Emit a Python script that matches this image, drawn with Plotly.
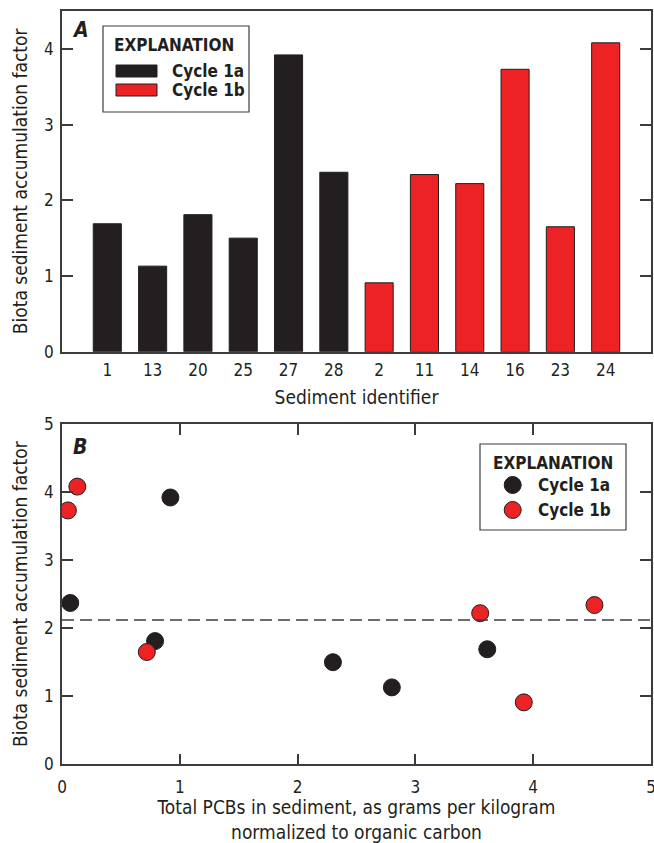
import plotly.graph_objects as go

# Biota-sediment accumulation factors by sediment, cycles 1a and 1b
sediment_1a = ["1", "13", "20", "25", "27", "28"]
bsaf_1a = [1.69, 1.13, 1.81, 1.50, 3.92, 2.37]
pcb_1a = [3.61, 2.80, 0.79, 2.30, 0.92, 0.07]

sediment_1b = ["2", "11", "14", "16", "23", "24"]
bsaf_1b = [0.91, 2.34, 2.22, 3.73, 1.65, 4.08]
pcb_1b = [3.92, 4.52, 3.55, 0.05, 0.72, 0.13]

reference_bsaf = 2.12

BLACK = "#231f20"
RED = "#ed2224"
AXIS = "#3c3c3c"
FONT = "Liberation Sans Narrow, DejaVu Sans Condensed, Arial Narrow, sans-serif"

W, H = 654, 843


def px_x(v):
    return v / W


def px_y(v):
    return 1 - v / H


fig = go.Figure()

# Panel A: bar chart
fig.add_trace(go.Bar(x=sediment_1a, y=bsaf_1a, name="Cycle 1a", width=0.62,
                     marker=dict(color=BLACK, line=dict(color=BLACK, width=1)),
                     xaxis="x", yaxis="y", showlegend=False))
fig.add_trace(go.Bar(x=sediment_1b, y=bsaf_1b, name="Cycle 1b", width=0.62,
                     marker=dict(color=RED, line=dict(color=BLACK, width=1)),
                     xaxis="x", yaxis="y", showlegend=False))

# Panel B: scatter against sediment PCBs
fig.add_trace(go.Scatter(x=pcb_1a, y=bsaf_1a, mode="markers", name="Cycle 1a",
                         marker=dict(color=BLACK, size=17, line=dict(color=BLACK, width=1)),
                         xaxis="x2", yaxis="y2", showlegend=False))
fig.add_trace(go.Scatter(x=pcb_1b, y=bsaf_1b, mode="markers", name="Cycle 1b",
                         marker=dict(color=RED, size=17, line=dict(color=BLACK, width=1)),
                         xaxis="x2", yaxis="y2", showlegend=False))

axis_common = dict(showline=True, linecolor=AXIS, linewidth=1.5, mirror="ticks",
                   showgrid=False, zeroline=False, automargin=False,
                   tickfont=dict(family=FONT, size=17, color=BLACK),
                   tickcolor=AXIS, tickwidth=1.5, ticklabeloverflow="allow")

title_font = dict(family=FONT, size=19, color=BLACK)
x_dom = [px_x(62), px_x(651)]

fig.update_layout(
    width=W, height=H,
    margin=dict(l=0, r=0, t=0, b=0),
    paper_bgcolor="white", plot_bgcolor="white",
    barmode="overlay",
    font=dict(family=FONT, color=BLACK),
    xaxis=dict(**axis_common, domain=x_dom, anchor="y", type="category",
               categoryorder="array", categoryarray=sediment_1a + sediment_1b,
               range=[-1, 12], ticks="", ticklabelstandoff=2,
               title=dict(text="Sediment identifier", font=title_font, standoff=12)),
    yaxis=dict(**axis_common, domain=[px_y(351.7), px_y(11)], anchor="x",
               range=[0, 4.5], dtick=1, ticks="inside", ticklen=11, ticklabelstandoff=3,
               title=dict(text="Biota sediment accumulation factor", font=title_font,
                          standoff=11)),
    xaxis2=dict(**axis_common, domain=x_dom, anchor="y2", range=[0, 5], dtick=1,
                ticks="inside", ticklen=11, ticklabelstandoff=7,
                title=dict(text="Total PCBs in sediment, as grams per kilogram<br>normalized to organic carbon",
                           font=title_font, standoff=13)),
    yaxis2=dict(**axis_common, domain=[px_y(764.3), px_y(424)], anchor="x2",
                range=[0, 5], dtick=1, ticks="inside", ticklen=11, ticklabelstandoff=3,
                title=dict(text="Biota sediment accumulation factor", font=title_font,
                           standoff=11)),
)

# Reference level across panel B
fig.add_shape(type="line", xref="x2 domain", yref="y2", x0=0, x1=1,
              y0=reference_bsaf, y1=reference_bsaf,
              line=dict(color=AXIS, width=1.3, dash="12px,6px"))


def note(x, y, text, size=17, xanchor="center"):
    fig.add_annotation(xref="paper", yref="paper", x=px_x(x), y=px_y(y),
                       text=text, showarrow=False, xanchor=xanchor, yanchor="middle",
                       font=dict(family=FONT, size=size, color=BLACK))


# Panel letters
note(80, 30, "<b><i>A</i></b>", size=21)
note(80, 447, "<b><i>B</i></b>", size=21)

# Explanation box for panel A
fig.add_shape(type="rect", xref="paper", yref="paper",
              x0=px_x(103), x1=px_x(249), y0=px_y(112), y1=px_y(26),
              line=dict(color=AXIS, width=1.2), fillcolor="white")
note(174, 45, "<b>EXPLANATION</b>")
for name, color, yy in (("Cycle 1a", BLACK, 71), ("Cycle 1b", RED, 90)):
    fig.add_shape(type="rect", xref="paper", yref="paper",
                  x0=px_x(116), x1=px_x(157), y0=px_y(yy + 6), y1=px_y(yy - 6),
                  line=dict(color=BLACK, width=1), fillcolor=color)
    note(170, yy, f"<b>{name}</b>", xanchor="left")

# Explanation box for panel B
fig.add_shape(type="rect", xref="paper", yref="paper",
              x0=px_x(480), x1=px_x(626), y0=px_y(530), y1=px_y(444),
              line=dict(color=AXIS, width=1.2), fillcolor="white")
note(553, 463, "<b>EXPLANATION</b>")
for name, color, yy in (("Cycle 1a", BLACK, 485), ("Cycle 1b", RED, 510)):
    fig.add_shape(type="circle", xref="paper", yref="paper",
                  xsizemode="pixel", ysizemode="pixel",
                  xanchor=px_x(512.7), yanchor=px_y(yy),
                  x0=-8.5, x1=8.5, y0=-8.5, y1=8.5,
                  line=dict(color=BLACK, width=1), fillcolor=color)
    note(536, yy, f"<b>{name}</b>", xanchor="left")

fig.write_html("out.html")
